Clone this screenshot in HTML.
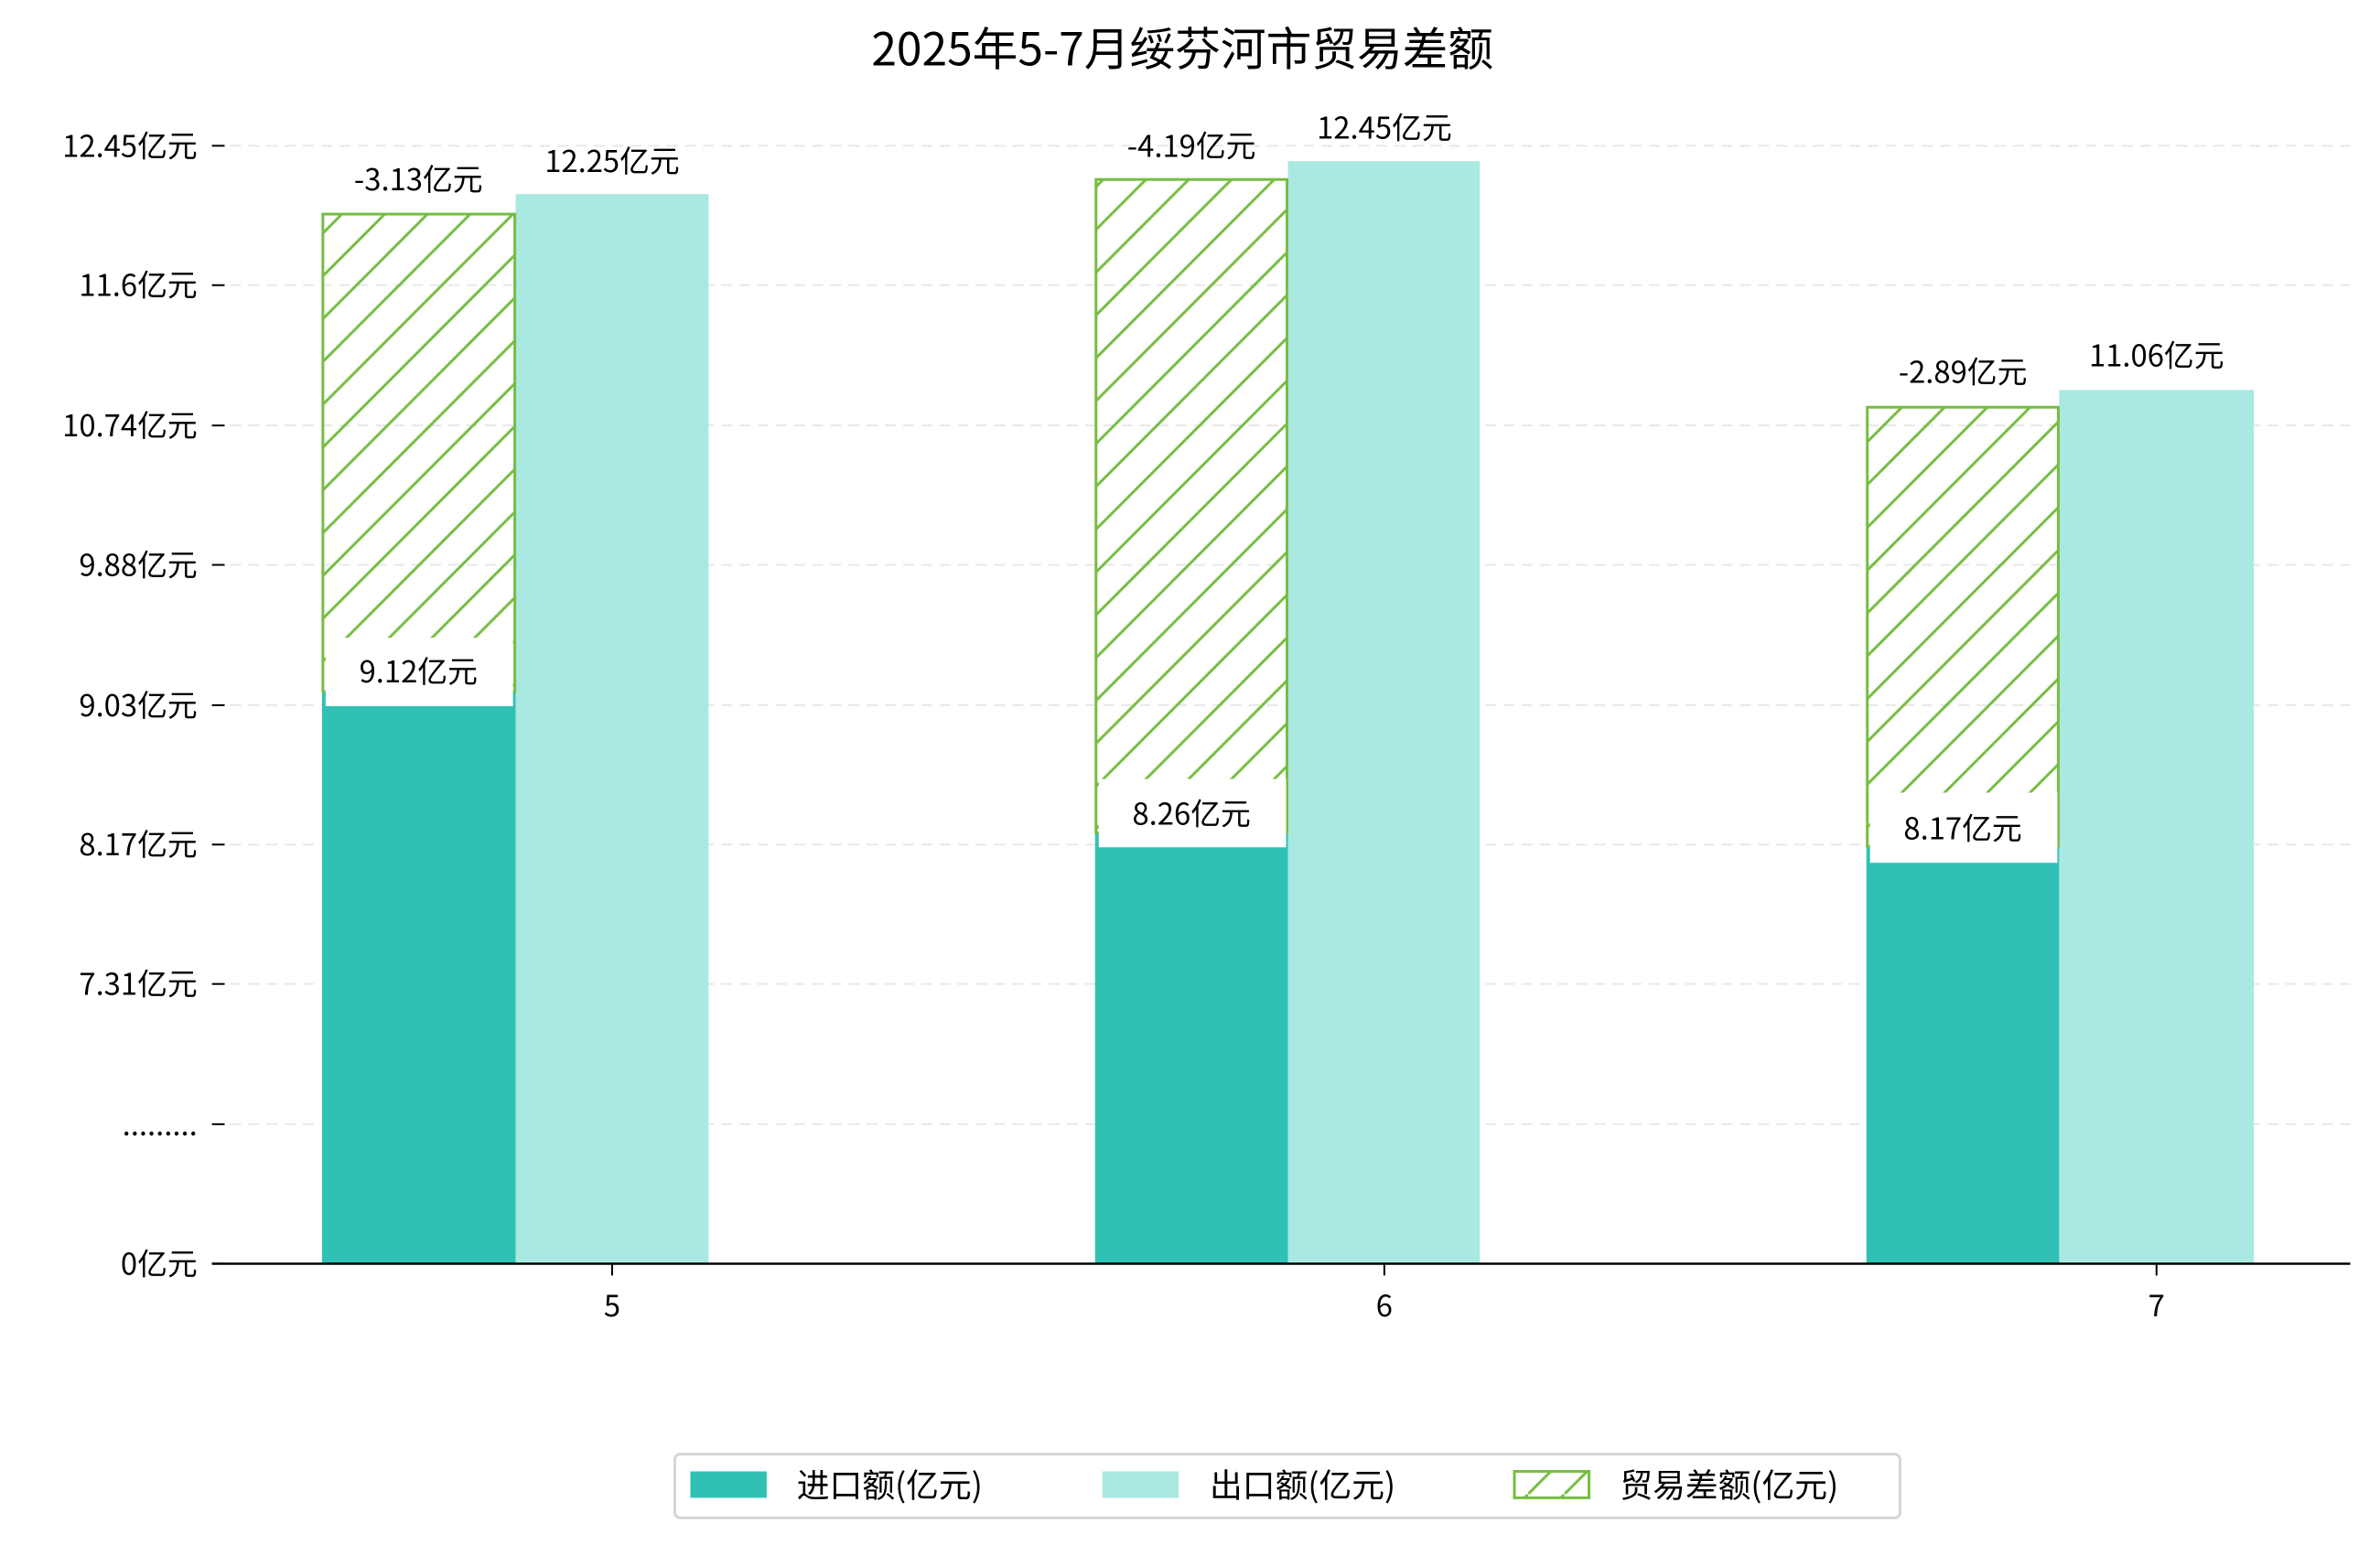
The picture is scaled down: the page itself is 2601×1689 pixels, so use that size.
<!DOCTYPE html>
<html><head><meta charset="utf-8"><style>body{margin:0;background:#fff}svg{display:block}text{font-family:"Noto Sans CJK SC","WenQuanYi Zen Hei",sans-serif}</style></head>
<body>
<svg width="2601" height="1689" viewBox="0 0 2601 1689" xmlns="http://www.w3.org/2000/svg">
<defs>
<pattern id="h" patternUnits="userSpaceOnUse" width="47" height="47">
<path d="M-5,52 L52,-5 M-5,5 L5,-5 M42,52 L52,42" stroke="#76bd42" stroke-width="3"/>
</pattern>
<pattern id="h2" patternUnits="userSpaceOnUse" width="40" height="40">
<path d="M-5,45 L45,-5" stroke="#76bd42" stroke-width="3"/>
</pattern>
</defs>
<g transform="scale(0.994 0.996)">
<text x="1300" y="72" font-size="50" text-anchor="middle" fill="#000">2025年5-7月绥芬河市贸易差额</text>
<g stroke="#e8e8e8" stroke-width="2" stroke-dasharray="12,8">
<line x1="233" x2="2584" y1="160" y2="160"/><line x1="233" x2="2584" y1="313" y2="313"/><line x1="233" x2="2584" y1="467" y2="467"/><line x1="233" x2="2584" y1="620" y2="620"/><line x1="233" x2="2584" y1="774" y2="774"/><line x1="233" x2="2584" y1="927" y2="927"/><line x1="233" x2="2584" y1="1080" y2="1080"/><line x1="233" x2="2584" y1="1234" y2="1234"/>
</g>
<g stroke="#000" stroke-width="2">
<line x1="233" x2="247" y1="160" y2="160"/><line x1="233" x2="247" y1="313" y2="313"/><line x1="233" x2="247" y1="467" y2="467"/><line x1="233" x2="247" y1="620" y2="620"/><line x1="233" x2="247" y1="774" y2="774"/><line x1="233" x2="247" y1="927" y2="927"/><line x1="233" x2="247" y1="1080" y2="1080"/><line x1="233" x2="247" y1="1234" y2="1234"/><line x1="233" x2="247" y1="1387" y2="1387"/>
</g>
<g font-size="33" text-anchor="end" fill="#000">
<text x="217" y="172">12.45亿元</text><text x="217" y="325">11.6亿元</text><text x="217" y="479">10.74亿元</text><text x="217" y="632">9.88亿元</text><text x="217" y="786">9.03亿元</text><text x="217" y="939">8.17亿元</text><text x="217" y="1092">7.31亿元</text><text x="217" y="1246">.........</text><text x="217" y="1399">0亿元</text>
</g>
<rect x="354" y="759" width="213" height="628" fill="#31c1b4"/>
<rect x="567" y="213" width="212" height="1174" fill="#aae8e2"/>
<rect x="355" y="235" width="211" height="524" fill="url(#h)" stroke="#76bd42" stroke-width="3"/>
<rect x="358" y="700" width="206" height="75" fill="#fff"/>
<rect x="1204" y="914" width="212" height="473" fill="#31c1b4"/>
<rect x="1416" y="177" width="211" height="1210" fill="#aae8e2"/>
<rect x="1205" y="197" width="210" height="717" fill="url(#h)" stroke="#76bd42" stroke-width="3"/>
<rect x="1208" y="855" width="206" height="75" fill="#fff"/>
<rect x="2052" y="929" width="212" height="458" fill="#31c1b4"/>
<rect x="2264" y="428" width="214" height="959" fill="#aae8e2"/>
<rect x="2053" y="447" width="210" height="482" fill="url(#h)" stroke="#76bd42" stroke-width="3"/>
<rect x="2056" y="870" width="206" height="77" fill="#fff"/>
<g font-size="33" text-anchor="middle" fill="#000">
<text x="460" y="749">9.12亿元</text><text x="460" y="209">-3.13亿元</text><text x="673" y="189">12.25亿元</text>
<text x="1310" y="905">8.26亿元</text><text x="1310" y="172">-4.19亿元</text><text x="1522" y="152">12.45亿元</text>
<text x="2158" y="921">8.17亿元</text><text x="2158" y="420">-2.89亿元</text><text x="2371" y="402">11.06亿元</text>
</g>
<line x1="233" x2="2584" y1="1387" y2="1387" stroke="#000" stroke-width="2.5"/>
<g stroke="#000" stroke-width="2"><line x1="673" x2="673" y1="1387" y2="1400"/><line x1="1522" x2="1522" y1="1387" y2="1400"/><line x1="2371" x2="2371" y1="1387" y2="1400"/></g>
<g font-size="33" text-anchor="middle" fill="#000"><text x="673" y="1445">5</text><text x="1522" y="1445">6</text><text x="2371" y="1445">7</text></g>
<rect x="742" y="1596" width="1347" height="70" rx="6" fill="#fff" stroke="#d5d5d5" stroke-width="3"/>
<rect x="759" y="1615" width="84" height="29" fill="#31c1b4"/>
<rect x="1212" y="1615" width="84" height="29" fill="#aae8e2"/>
<rect x="1665" y="1615" width="82" height="29" fill="url(#h2)" stroke="#76bd42" stroke-width="3"/>
<g font-size="36" fill="#000"><text x="876" y="1643">进口额(亿元)</text><text x="1330" y="1643">出口额(亿元)</text><text x="1781" y="1643">贸易差额(亿元)</text></g>
</g>
</svg>
</body></html>
